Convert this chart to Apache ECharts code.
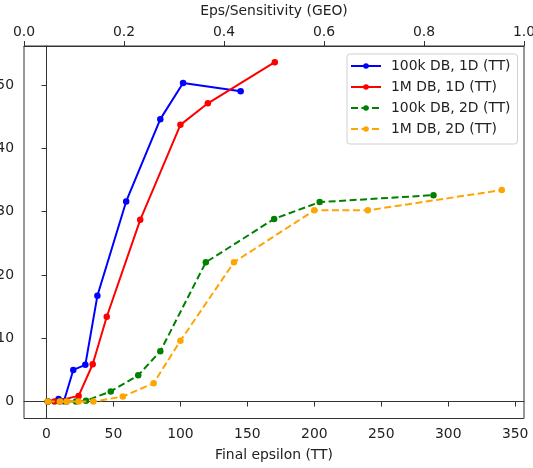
<!DOCTYPE html>
<html>
<head>
<meta charset="utf-8">
<script src="https://cdn.jsdelivr.net/npm/echarts@6/dist/echarts.min.js"></script>
<style>html,body{margin:0;padding:0;background:#fff}#c{width:533px;height:468px}</style>
</head>
<body>
<div id="c"></div>
<script>
const seriesNames = ['100k DB, 1D (TT)', '1M DB, 1D (TT)', '100k DB, 2D (TT)', '1M DB, 2D (TT)'];
const blue100k1D = [[1,0],[9,0.4],[13,0.05],[20,5.0],[29,5.8],[38,16.7],[59.5,31.6],[85,44.6],[102,50.3],[145,49.0]];
const red1M1D = [[1,0],[6,0],[24,0.9],[34.5,5.9],[45,13.4],[70,28.7],[100,43.7],[120.5,47.1],[170.5,53.6]];
const green100k2D = [[1,0],[10,0],[15,0],[22,0],[29.5,0.15],[48,1.6],[68.5,4.15],[85,7.95],[119,22.0],[170,28.85],[204,31.5],[289,32.6]];
const orange1M2D = [[1,0],[10,0],[15,0],[24,0],[35,0],[57,0.8],[80,2.9],[100,9.6],[140,22.0],[200,30.2],[240,30.2],[340,33.4]];
const xTicks = [0,50,100,150,200,250,300,350];
const yTicks = [0,10,20,30,40,50];
const topTicks = [0,0.2,0.4,0.6,0.8,1.0];
const topLabels = ['0.0','0.2','0.4','0.6','0.8','1.0'];

const colors = ['#0000ff','#ff0000','#008000','#ffa500'];
const dataSets = [blue100k1D, red1M1D, green100k2D, orange1M2D];
const dashed = [false,false,true,true];
const txt = '#222';
const font = 'DejaVu Sans';
const fs = 13.9;

const chart = echarts.init(document.getElementById('c'), null, {renderer:'canvas'});
chart.setOption({
  animation: false,
  backgroundColor: '#fff',
  textStyle: {fontFamily: font},
  grid: {left: 24, right: 9, top: 46, bottom: 49.5, show: true, borderColor: '#333', borderWidth: 1,
         containLabel: false, outerBoundsMode: 'none'},
  legend: {
    orient: 'vertical', left: 347, top: 54,
    data: seriesNames,
    itemWidth: 30, itemHeight: 7, itemGap: 7,
    padding: [5, 7, 8, 3],
    borderColor: '#d0d0d0', borderWidth: 1, borderRadius: 3,
    backgroundColor: 'rgba(255,255,255,0.8)',
    textStyle: {fontSize: fs, color: txt, fontFamily: font, padding: [0,0,0,5]}
  },
  xAxis: [{
    type: 'value', position: 'bottom', min: -16.8, max: 356.6,
    name: 'Final epsilon (TT)', nameLocation: 'middle', nameGap: 30,
    nameTextStyle: {fontSize: fs, color: txt, fontFamily: font},
    axisLine: {show: true, lineStyle: {color: '#333', width: 1}},
    axisTick: {show: true, length: 5, customValues: xTicks, lineStyle: {color: '#333'}},
    axisLabel: {customValues: xTicks, fontSize: fs, color: txt, margin: 9, fontFamily: font},
    splitLine: {show: false}
  }, {
    type: 'value', position: 'top', min: 0, max: 1.0,
    name: 'Eps/Sensitivity (GEO)', nameLocation: 'middle', nameGap: 28,
    nameTextStyle: {fontSize: fs, color: txt, fontFamily: font},
    axisLine: {show: true, lineStyle: {color: '#333', width: 1}},
    axisTick: {show: true, length: 5, customValues: topTicks, lineStyle: {color: '#333'}},
    axisLabel: {customValues: topTicks, fontSize: fs, color: txt, margin: 7, fontFamily: font,
      formatter: function(v){ const i = topTicks.indexOf(v); return i >= 0 ? topLabels[i] : v.toFixed(1); }},
    splitLine: {show: false}
  }],
  yAxis: [{
    type: 'value', min: -2.67, max: 56.15,
    axisLine: {show: true, lineStyle: {color: '#333', width: 1}},
    axisTick: {show: true, length: 5, customValues: yTicks, lineStyle: {color: '#333'}},
    axisLabel: {customValues: yTicks, fontSize: fs, color: txt, margin: 10, fontFamily: font},
    splitLine: {show: false}
  }],
  series: seriesNames.map((n, i) => ({
    name: n, type: 'line', xAxisIndex: 0, yAxisIndex: 0,
    data: dataSets[i],
    symbol: 'circle', symbolSize: 6.5,
    color: colors[i],
    itemStyle: {color: colors[i]},
    lineStyle: {color: colors[i], width: 2, type: dashed[i] ? [7, 3.5] : 'solid'},
    emphasis: {disabled: true},
    z: 2 + i
  }))
});
</script>
</body>
</html>
